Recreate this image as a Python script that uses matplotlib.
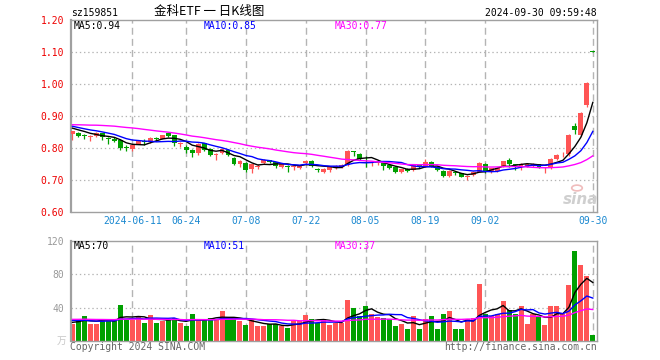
import matplotlib
matplotlib.use("Agg")
import matplotlib.pyplot as plt
from matplotlib.patches import Circle
import numpy as np
import pandas as pd

plt.rcParams["font.family"] = ["DejaVu Sans Mono", "Noto Sans CJK SC"]
plt.rcParams["lines.scale_dashes"] = False

W, H = 660, 360

# daily K-line, 2024-05-27 .. 2024-09-30 (88 trading days)
opens = [0.845, 0.848, 0.842, 0.834, 0.839, 0.847, 0.830, 0.829, 0.825, 0.802,
         0.798, 0.814, 0.821, 0.819, 0.830, 0.829, 0.846, 0.840, 0.813, 0.804,
         0.795, 0.784, 0.815, 0.797, 0.778, 0.783, 0.795, 0.770, 0.750, 0.753,
         0.735, 0.741, 0.752, 0.762, 0.755, 0.741, 0.745, 0.740, 0.738, 0.752,
         0.760, 0.733, 0.724, 0.731, 0.740, 0.740, 0.747, 0.790, 0.781, 0.756,
         0.752, 0.752, 0.752, 0.748, 0.742, 0.726, 0.733, 0.731, 0.745, 0.742,
         0.756, 0.742, 0.729, 0.713, 0.725, 0.721, 0.709, 0.715, 0.726, 0.750,
         0.725, 0.727, 0.742, 0.762, 0.749, 0.740, 0.742, 0.743, 0.750, 0.739,
         0.740, 0.765, 0.780, 0.781, 0.869, 0.841, 0.934, 1.104]
highs = [0.853, 0.849, 0.844, 0.842, 0.849, 0.848, 0.833, 0.833, 0.827, 0.808,
         0.811, 0.826, 0.827, 0.834, 0.834, 0.842, 0.848, 0.842, 0.819, 0.810,
         0.797, 0.817, 0.817, 0.799, 0.783, 0.798, 0.797, 0.772, 0.761, 0.755,
         0.750, 0.749, 0.765, 0.764, 0.757, 0.751, 0.748, 0.744, 0.748, 0.763,
         0.761, 0.738, 0.736, 0.741, 0.748, 0.751, 0.795, 0.791, 0.783, 0.775,
         0.758, 0.757, 0.754, 0.750, 0.744, 0.735, 0.736, 0.748, 0.748, 0.765,
         0.758, 0.745, 0.731, 0.730, 0.728, 0.723, 0.716, 0.727, 0.756, 0.754,
         0.738, 0.740, 0.760, 0.768, 0.750, 0.752, 0.752, 0.754, 0.751, 0.742,
         0.769, 0.780, 0.788, 0.843, 0.879, 0.912, 1.006, 1.104]
lows = [0.826, 0.833, 0.829, 0.823, 0.834, 0.826, 0.814, 0.818, 0.794, 0.790,
        0.791, 0.812, 0.810, 0.816, 0.821, 0.827, 0.834, 0.805, 0.802, 0.785,
        0.771, 0.777, 0.791, 0.775, 0.762, 0.780, 0.774, 0.747, 0.741, 0.726,
        0.722, 0.735, 0.750, 0.753, 0.737, 0.736, 0.725, 0.730, 0.733, 0.750,
        0.741, 0.724, 0.722, 0.726, 0.734, 0.738, 0.745, 0.775, 0.763, 0.742,
        0.745, 0.748, 0.731, 0.735, 0.722, 0.722, 0.724, 0.729, 0.738, 0.740,
        0.740, 0.728, 0.709, 0.710, 0.715, 0.708, 0.700, 0.713, 0.724, 0.723,
        0.722, 0.725, 0.740, 0.742, 0.730, 0.731, 0.740, 0.741, 0.737, 0.721,
        0.735, 0.763, 0.772, 0.774, 0.844, 0.838, 0.929, 1.100]
closes = [0.852, 0.839, 0.837, 0.836, 0.847, 0.833, 0.828, 0.822, 0.799, 0.799,
          0.810, 0.823, 0.818, 0.831, 0.829, 0.840, 0.836, 0.816, 0.815, 0.795,
          0.783, 0.814, 0.794, 0.778, 0.781, 0.796, 0.777, 0.751, 0.759, 0.732,
          0.749, 0.743, 0.762, 0.755, 0.743, 0.749, 0.742, 0.743, 0.746, 0.760,
          0.745, 0.730, 0.735, 0.740, 0.743, 0.747, 0.792, 0.786, 0.767, 0.752,
          0.754, 0.755, 0.744, 0.737, 0.726, 0.733, 0.727, 0.746, 0.744, 0.755,
          0.742, 0.731, 0.713, 0.728, 0.722, 0.710, 0.711, 0.725, 0.754, 0.729,
          0.737, 0.738, 0.758, 0.750, 0.747, 0.750, 0.750, 0.750, 0.740, 0.741,
          0.767, 0.778, 0.782, 0.841, 0.856, 0.910, 1.004, 1.101]
volumes = [20, 27, 30, 21, 21, 26, 27, 24, 43, 25,
           25, 30, 22, 31, 22, 24, 26, 28, 22, 18,
           32, 27, 26, 28, 26, 36, 26, 26, 24, 19,
           26, 18, 18, 20, 20, 18, 16, 24, 24, 31,
           26, 22, 26, 19, 22, 22, 49, 40, 30, 42,
           32, 29, 28, 27, 18, 21, 14, 30, 15, 27,
           30, 15, 33, 36, 15, 15, 26, 28, 69, 33,
           30, 33, 48, 37, 33, 42, 20, 32, 29, 19,
           42, 42, 32, 67, 108, 91, 78, 7]

# sessions before the visible window, only feed the moving averages
prior_close = [0.845, 0.850, 0.855, 0.852, 0.858, 0.860, 0.856, 0.862, 0.858, 0.854,
               0.885, 0.893, 0.898, 0.902, 0.900, 0.897, 0.895, 0.899, 0.892, 0.890,
               0.880, 0.876, 0.872, 0.874, 0.868, 0.866, 0.862, 0.865, 0.865]
prior_volume = [26, 24, 28, 25, 27, 30, 26, 24, 27, 25,
                28, 26, 29, 27, 25, 30, 27, 26, 28, 24,
                26, 29, 27, 25, 28, 23, 22, 24, 23]

tick_idx = [10, 19, 29, 39, 49, 59, 69, 87]
tick_labels = ["2024-06-11", "06-24", "07-08", "07-22", "08-05", "08-19", "09-02", "09-30"]

RED = "#ff5555"
GREEN = "#00a000"
FRAME = "#a0a0a0"
GRID = "#b4b4b4"
DATE_BLUE = "#1a88d0"


def mov(prior, vals, n):
    s = pd.Series(list(prior) + list(vals), dtype=float)
    return s.rolling(n, min_periods=1).mean().to_numpy()[len(prior):]


def fx(px):
    return px / W


def fy(py):
    return 1 - py / H


n = len(closes)
x = np.arange(n)
o = np.array(opens)
c = np.array(closes)
up = c >= o
colors = np.where(up, RED, GREEN)

fig = plt.figure(figsize=(W / 100, H / 100), dpi=100)
ax = fig.add_axes([fx(71), fy(212), fx(597) - fx(71), fy(20) - fy(212)])
axv = fig.add_axes([fx(71), fy(341), fx(597) - fx(71), fy(241) - fy(341)])

xlim = (-0.25, n - 0.3)

for a in (ax, axv):
    a.set_xlim(*xlim)
    for sp in a.spines.values():
        sp.set_color(FRAME)
        sp.set_linewidth(1.0)
    a.spines["left"].set_linewidth(1.6)
    a.tick_params(axis="both", length=0, labelsize=7)
    for t in tick_idx:
        a.axvline(t, color=GRID, lw=1.0, dashes=(5, 3), zorder=0)

# price panel
ax.set_ylim(0.60, 1.20)
for lvl in [0.7, 0.8, 0.9, 1.0, 1.1]:
    ax.axhline(lvl, color=GRID, lw=0.9, dashes=(1, 2), zorder=0)
ax.vlines(x, lows, highs, colors=colors, lw=0.9, zorder=2)
body_lo = np.minimum(o, c)
body_h = np.maximum(np.abs(c - o), 0.0018)
ax.bar(x, body_h, bottom=body_lo, width=0.82, color=colors, lw=0, zorder=3)
ax.plot(x, mov(prior_close, closes, 5), color="black", lw=1.0, zorder=4)
ax.plot(x, mov(prior_close, closes, 10), color="#0000ff", lw=1.0, zorder=4)
ax.plot(x, mov(prior_close, closes, 30), color="#ff00ff", lw=1.0, zorder=4)

ax.set_yticks([0.6, 0.7, 0.8, 0.9, 1.0, 1.1, 1.2])
ax.set_yticklabels(["0.60", "0.70", "0.80", "0.90", "1.00", "1.10", "1.20"], color="#ee0000")
ax.tick_params(axis="y", pad=5)
ax.set_xticks(tick_idx)
ax.set_xticklabels(tick_labels, color=DATE_BLUE)
ax.tick_params(axis="x", pad=3)

# volume panel
axv.set_ylim(0, 120)
for lvl in [40, 80]:
    axv.axhline(lvl, color=GRID, lw=0.9, dashes=(1, 2), zorder=0)
axv.bar(x, volumes, width=0.84, color=colors, lw=0, zorder=2)
axv.plot(x, mov(prior_volume, volumes, 5), color="black", lw=1.0, zorder=3)
axv.plot(x, mov(prior_volume, volumes, 10), color="#0000ff", lw=1.0, zorder=3)
axv.plot(x, mov(prior_volume, volumes, 30), color="#ff00ff", lw=1.0, zorder=3)
axv.set_yticks([40, 80, 120])
axv.set_yticklabels(["40", "80", "120"], color="#999999")
axv.tick_params(axis="y", pad=5)
axv.set_xticks([])

# texts
fig.text(fx(71), fy(13), "sz159851", fontsize=7, va="center", ha="left", color="black")
fig.text(fx(209), fy(12), "金科ETF 一 日K线图", fontsize=9, va="center", ha="center",
         family=["Noto Sans CJK SC", "DejaVu Sans"], color="black")
fig.text(fx(597), fy(13), "2024-09-30 09:59:48", fontsize=7, va="center", ha="right", color="black")

fig.text(fx(74), fy(26), "MA5:0.94", fontsize=7, va="center", color="black")
fig.text(fx(204), fy(26), "MA10:0.85", fontsize=7, va="center", color="#0000ff")
fig.text(fx(335), fy(26), "MA30:0.77", fontsize=7, va="center", color="#ff00ff")
fig.text(fx(74), fy(246), "MA5:70", fontsize=7, va="center", color="black")
fig.text(fx(204), fy(246), "MA10:51", fontsize=7, va="center", color="#0000ff")
fig.text(fx(335), fy(246), "MA30:37", fontsize=7, va="center", color="#ff00ff")

fig.text(fx(66), fy(341), "万", fontsize=7, va="center", ha="right",
         family=["Noto Sans CJK SC", "DejaVu Sans"], color="#c8c8c8")
fig.text(fx(70), fy(347), "Copyright 2024 SINA.COM", fontsize=7, va="center", ha="left", color="#666666")
fig.text(fx(597), fy(347), "http://finance.sina.com.cn", fontsize=7, va="center", ha="right", color="#666666")

# sina watermark
fig.text(fx(581), fy(199), "sina", fontsize=11, style="italic", weight="bold", va="center",
         ha="center", family="DejaVu Sans", color="#cfcfcf", zorder=1)
fig.patches.append(Circle((fx(577), fy(188)), 0.008, transform=fig.transFigure,
                          fill=False, edgecolor="#f0bcbc", lw=1.2))

fig.savefig("out.png", dpi=100)
